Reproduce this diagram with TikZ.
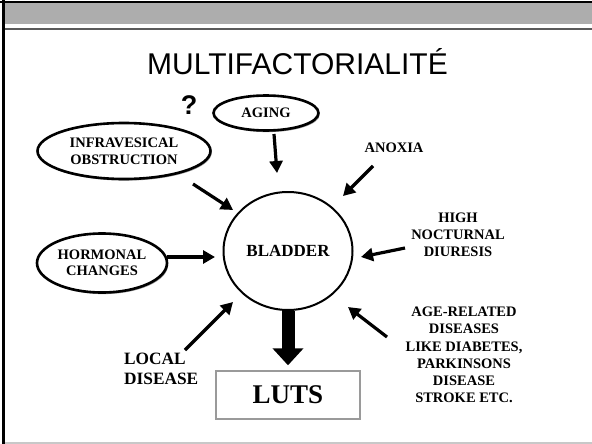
\documentclass[tikz,border=0pt]{standalone}
\usepackage{fontspec}
\setmainfont{Liberation Serif}
\newfontfamily\headfont{Liberation Sans}
\usetikzlibrary{shapes.geometric,arrows.meta,shadows}
\definecolor{band}{HTML}{ADADAD}
\definecolor{rulegray}{HTML}{5A5A5A}
\definecolor{footgray}{HTML}{C8C8C8}
\definecolor{boxgray}{HTML}{9A9A9A}
\begin{document}
\begin{tikzpicture}[x=1pt,y=-1pt,
  factor/.style={ellipse, draw, fill=white, line width=2.6pt, inner sep=0pt,
    align=center, font=\bfseries\fontsize{14.5}{17}\selectfont,
    drop shadow={shadow xshift=1.2pt, shadow yshift=-1.6pt, opacity=0.4, fill=black}},
  lbl/.style={align=center, inner sep=0pt, font=\bfseries\fontsize{14.5}{17.3}\selectfont},
  arr/.style={line width=3.2pt, -{Triangle[length=12pt,width=13pt]}},
  bigarr/.style={line width=13pt, -{Triangle[length=17pt,width=30pt]}}]
\useasboundingbox (0,0) rectangle (592,444);

% slide frame and header band
\fill[band] (4,3) rectangle (592,24.5);
\draw[line width=2pt] (0,1.7) -- (592,1.7);
\draw[rulegray, line width=2pt] (4,29.5) -- (592,29.5);
\draw[footgray, line width=1.6pt] (4,443) -- (592,443);
\draw[line width=2.8pt] (3.3,0) -- (3.3,444);

% title
\node[anchor=base, inner sep=0pt, font=\headfont\fontsize{30}{32}\selectfont] (title) at (297.5,75) {MULTIFACTORIALITÉ};
\node[inner sep=0pt, font=\headfont\bfseries\fontsize{27}{29}\selectfont] (qmark) at (189,105) {?};

% factor ellipses
\node[factor, minimum width=105pt, minimum height=35pt] (aging) at (266,113) {AGING};
\node[factor, minimum width=173pt, minimum height=56pt] (infra) at (124,151) {INFRAVESICAL\\OBSTRUCTION};
\node[factor, minimum width=130pt, minimum height=59pt, font=\bfseries\fontsize{14.5}{16}\selectfont] (hormonal) at (102,263) {HORMONAL\\CHANGES};

% bladder and outcome
\node[ellipse, draw, line width=2pt, minimum width=129pt, minimum height=118pt, inner sep=0pt,
  font=\bfseries\fontsize{17}{19}\selectfont] (bladder) at (288,251) {BLADDER};
\node[draw=boxgray, line width=1.4pt, minimum width=144pt, minimum height=48pt, inner sep=0pt,
  font=\bfseries\fontsize{27}{29}\selectfont] (luts) at (288,395) {LUTS};

% plain labels
\node[lbl] (anoxia) at (394,148) {ANOXIA};
\node[lbl, font=\bfseries\fontsize{14.5}{17}\selectfont] (high) at (458,235) {HIGH\\NOCTURNAL\\DIURESIS};
\node[lbl] (agerel) at (464,355) {AGE-RELATED\\DISEASES\\LIKE DIABETES,\\PARKINSONS\\DISEASE\\STROKE ETC.};
\node[lbl, anchor=west, align=left, font=\bfseries\fontsize{17.3}{20}\selectfont] (local) at (124,369) {LOCAL\\DISEASE};

% arrow end points
\coordinate (agingT) at (274,134);   \coordinate (agingH) at (277,173);
\coordinate (infraT) at (193,184);   \coordinate (infraH) at (233,210);
\coordinate (hormT) at (167,257);    \coordinate (hormH) at (215,257);
\coordinate (localT) at (185,350);   \coordinate (localH) at (233,302);
\coordinate (anoxT) at (373,166);    \coordinate (anoxH) at (343,196);
\coordinate (highT) at (405,248);    \coordinate (highH) at (361,257);
\coordinate (ageT) at (387,337);     \coordinate (ageH) at (348,307);

\draw[arr] (agingT) -- (agingH);
\draw[arr] (infraT) -- (infraH);
\draw[arr] (hormT) -- (hormH);
\draw[arr] (localT) -- (localH);
\draw[arr] (anoxT) -- (anoxH);
\draw[arr] (highT) -- (highH);
\draw[arr] (ageT) -- (ageH);

\draw[bigarr, shorten >=5pt] (bladder.south) -- (luts.north);
\end{tikzpicture}
\end{document}
